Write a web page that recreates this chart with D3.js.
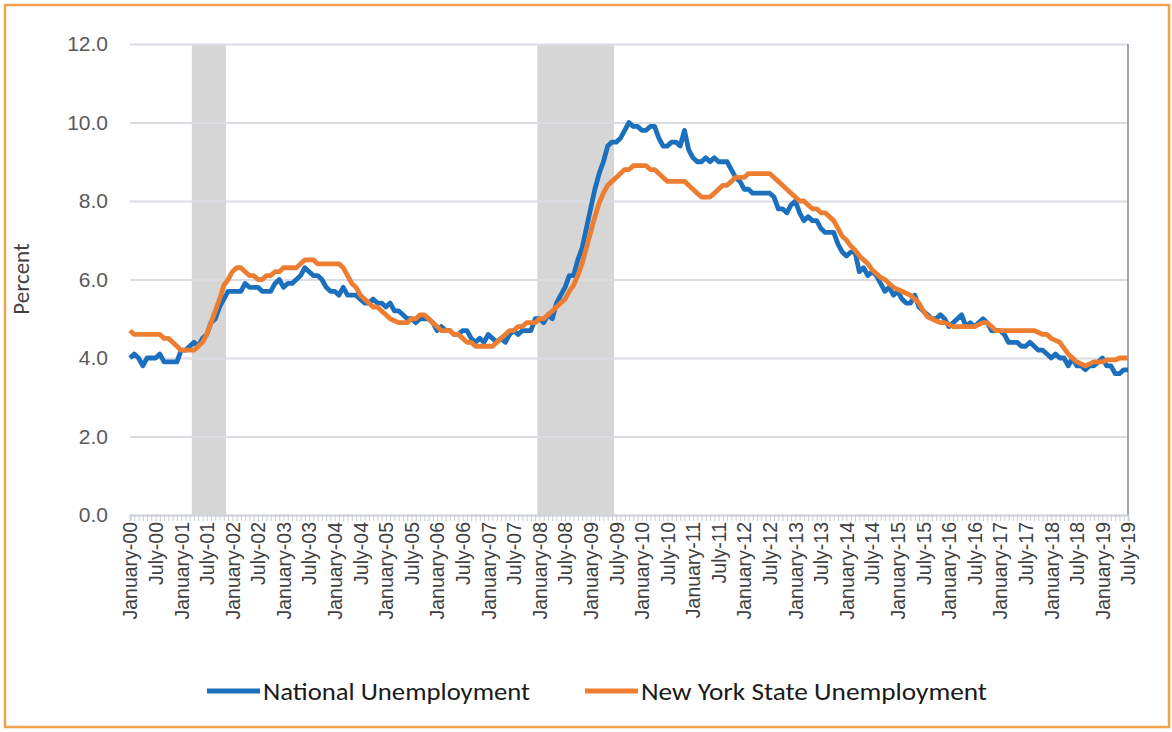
<!DOCTYPE html>
<html>
<head>
<meta charset="utf-8">
<script src="https://cdn.jsdelivr.net/npm/d3@7"></script>
<style>
  body { margin: 0; background: #fff; }
  svg { font-family: Carlito, Lato, sans-serif; }
</style>
</head>
<body>
<svg id="chart" width="1172" height="732"></svg>
<script>
// monthly unemployment rate, January 2000 .. July 2019
const national = [
  4.0, 4.1, 4.0, 3.8, 4.0, 4.0, 4.0, 4.1, 3.9, 3.9, 3.9, 3.9,
  4.2, 4.2, 4.3, 4.4, 4.3, 4.5, 4.6, 4.9, 5.0, 5.3, 5.5, 5.7,
  5.7, 5.7, 5.7, 5.9, 5.8, 5.8, 5.8, 5.7, 5.7, 5.7, 5.9, 6.0,
  5.8, 5.9, 5.9, 6.0, 6.1, 6.3, 6.2, 6.1, 6.1, 6.0, 5.8, 5.7,
  5.7, 5.6, 5.8, 5.6, 5.6, 5.6, 5.5, 5.4, 5.4, 5.5, 5.4, 5.4,
  5.3, 5.4, 5.2, 5.2, 5.1, 5.0, 5.0, 4.9, 5.0, 5.0, 5.0, 4.9,
  4.7, 4.8, 4.7, 4.7, 4.6, 4.6, 4.7, 4.7, 4.5, 4.4, 4.5, 4.4,
  4.6, 4.5, 4.4, 4.5, 4.4, 4.6, 4.7, 4.6, 4.7, 4.7, 4.7, 5.0,
  5.0, 4.9, 5.1, 5.0, 5.4, 5.6, 5.8, 6.1, 6.1, 6.5, 6.8, 7.3,
  7.8, 8.3, 8.7, 9.0, 9.4, 9.5, 9.5, 9.6, 9.8, 10.0, 9.9, 9.9,
  9.8, 9.8, 9.9, 9.9, 9.6, 9.4, 9.4, 9.5, 9.5, 9.4, 9.8, 9.3,
  9.1, 9.0, 9.0, 9.1, 9.0, 9.1, 9.0, 9.0, 9.0, 8.8, 8.6, 8.5,
  8.3, 8.3, 8.2, 8.2, 8.2, 8.2, 8.2, 8.1, 7.8, 7.8, 7.7, 7.9,
  8.0, 7.7, 7.5, 7.6, 7.5, 7.5, 7.3, 7.2, 7.2, 7.2, 6.9, 6.7,
  6.6, 6.7, 6.7, 6.2, 6.3, 6.1, 6.2, 6.1, 5.9, 5.7, 5.8, 5.6,
  5.7, 5.5, 5.4, 5.4, 5.6, 5.3, 5.2, 5.1, 5.0, 5.0, 5.1, 5.0,
  4.8, 4.9, 5.0, 5.1, 4.8, 4.9, 4.8, 4.9, 5.0, 4.9, 4.7, 4.7,
  4.7, 4.6, 4.4, 4.4, 4.4, 4.3, 4.3, 4.4, 4.3, 4.2, 4.2, 4.1,
  4.0, 4.1, 4.0, 4.0, 3.8, 4.0, 3.8, 3.8, 3.7, 3.8, 3.8, 3.9,
  4.0, 3.8, 3.8, 3.6, 3.6, 3.7, 3.7
];

const newYork = [
  4.7, 4.6, 4.6, 4.6, 4.6, 4.6, 4.6, 4.6, 4.5, 4.5, 4.4, 4.3,
  4.2, 4.2, 4.2, 4.2, 4.3, 4.4, 4.6, 4.9, 5.2, 5.5, 5.85, 6.0,
  6.2, 6.3, 6.3, 6.2, 6.1, 6.1, 6.0, 6.0, 6.1, 6.1, 6.2, 6.2,
  6.3, 6.3, 6.3, 6.3, 6.4, 6.5, 6.5, 6.5, 6.4, 6.4, 6.4, 6.4,
  6.4, 6.4, 6.3, 6.1, 5.9, 5.8, 5.6, 5.5, 5.4, 5.3, 5.3, 5.2,
  5.1, 5.0, 4.95, 4.9, 4.9, 4.9, 5.0, 5.0, 5.1, 5.1, 5.0, 4.9,
  4.8, 4.7, 4.7, 4.7, 4.6, 4.6, 4.5, 4.4, 4.4, 4.3, 4.3, 4.3,
  4.3, 4.3, 4.4, 4.5, 4.6, 4.7, 4.7, 4.8, 4.8, 4.9, 4.9, 4.9,
  5.0, 5.0, 5.1, 5.2, 5.3, 5.4, 5.5, 5.7, 5.85, 6.1, 6.4, 6.8,
  7.2, 7.6, 7.95, 8.2, 8.4, 8.5, 8.6, 8.7, 8.8, 8.8, 8.9, 8.9,
  8.9, 8.9, 8.8, 8.8, 8.7, 8.6, 8.5, 8.5, 8.5, 8.5, 8.5, 8.4,
  8.3, 8.2, 8.1, 8.1, 8.1, 8.2, 8.3, 8.4, 8.4, 8.5, 8.6, 8.6,
  8.6, 8.7, 8.7, 8.7, 8.7, 8.7, 8.7, 8.6, 8.5, 8.4, 8.3, 8.2,
  8.1, 8.0, 8.0, 7.9, 7.8, 7.8, 7.7, 7.7, 7.6, 7.5, 7.3, 7.1,
  7.0, 6.85, 6.75, 6.6, 6.5, 6.4, 6.25, 6.15, 6.05, 6.0, 5.9, 5.8,
  5.75, 5.7, 5.65, 5.6, 5.5, 5.4, 5.2, 5.05, 5.0, 4.95, 4.9, 4.9,
  4.85, 4.8, 4.8, 4.8, 4.8, 4.8, 4.8, 4.85, 4.9, 4.9, 4.8, 4.7,
  4.7, 4.7, 4.7, 4.7, 4.7, 4.7, 4.7, 4.7, 4.7, 4.65, 4.6, 4.6,
  4.5, 4.45, 4.4, 4.25, 4.1, 4.0, 3.9, 3.85, 3.8, 3.85, 3.9, 3.9,
  3.9, 3.95, 3.95, 3.95, 4.0, 4.0, 4.0
];

const recessions = [["April-01", "November-01"], ["January-08", "June-09"]];
const yTicks = [0, 2, 4, 6, 8, 10, 12];
const seriesNames = ["National Unemployment", "New York State Unemployment"];
const seriesColors = ["#1b6fbd", "#ed7d31"];

const fmt = d3.timeFormat("%B-%y");
const categories = d3.timeMonth.range(new Date(2000, 0, 1), new Date(2019, 7, 1)).map(fmt);
const labelCats = categories.filter(c => c.startsWith("January") || c.startsWith("July"));

const svg = d3.select("#chart");

svg.append("rect")
  .attr("x", 5).attr("y", 5).attr("width", 1164).attr("height", 722)
  .attr("fill", "none").attr("stroke", "#f2a14f").attr("stroke-width", 2.5);

const plotLeft = 130, plotRight = 1128, plotTop = 44, plotBottom = 515;

const x = d3.scalePoint().domain(categories).range([plotLeft, plotRight]);
const y = d3.scaleLinear().domain([0, 12]).range([plotBottom, plotTop]);
const step = x.step();

// recession bands
svg.append("g")
  .selectAll("rect")
  .data(recessions)
  .enter()
  .append("rect")
  .attr("x", d => x(d[0]) - step / 2)
  .attr("width", d => x(d[1]) - x(d[0]) + step)
  .attr("y", plotTop)
  .attr("height", plotBottom - plotTop)
  .attr("fill", "#d6d6d6");

// y axis + gridlines
const yAxis = svg.append("g")
  .attr("transform", "translate(" + plotLeft + ",0)")
  .call(d3.axisLeft(y).tickValues(yTicks).tickFormat(d3.format(".1f"))
    .tickSize(-(plotRight - plotLeft)).tickPadding(22));
yAxis.select(".domain").remove();
yAxis.selectAll("line").attr("stroke", "#d9dde3").attr("stroke-width", 2);
yAxis.selectAll("text").attr("fill", "#595959").style("font-size", "21px");

// right edge line
svg.append("line")
  .attr("x1", plotRight).attr("x2", plotRight).attr("y1", plotTop).attr("y2", plotBottom)
  .attr("stroke", "#7d8b9b").attr("stroke-width", 1.5);

// x axis: minor month ticks
const xMinor = svg.append("g")
  .attr("transform", "translate(0," + plotBottom + ")")
  .call(d3.axisBottom(x).tickSize(6).tickFormat(""));
xMinor.select(".domain").attr("stroke", "#d0d5dc").attr("stroke-width", 2);
xMinor.selectAll("line").attr("stroke", "#c9ced6");

// x axis labels
const xAxis = svg.append("g")
  .attr("transform", "translate(0," + plotBottom + ")")
  .call(d3.axisBottom(x).tickValues(labelCats).tickSize(0));
xAxis.select(".domain").remove();
xAxis.selectAll("text")
  .attr("transform", "rotate(-90)")
  .attr("x", -7).attr("y", 0).attr("dy", "0.35em")
  .style("text-anchor", "end")
  .attr("fill", "#404040")
  .style("font-size", "19.5px");

// y title
svg.append("text")
  .attr("transform", "translate(29,279) rotate(-90)")
  .attr("text-anchor", "middle")
  .attr("fill", "#404040")
  .style("font-size", "23px")
  .text("Percent");

// lines
const line = d3.line()
  .x((d, i) => x(categories[i]))
  .y(d => y(d));

[national, newYork].forEach((s, k) => {
  svg.append("path")
    .attr("d", line(s))
    .attr("fill", "none")
    .attr("stroke", seriesColors[k])
    .attr("stroke-width", 4.8)
    .attr("stroke-linejoin", "round");
});

// legend
const legendX = [207, 585];
const legendW = [267, 346];
const legend = svg.append("g");
seriesNames.forEach((name, k) => {
  legend.append("line")
    .attr("x1", legendX[k]).attr("x2", legendX[k] + 53)
    .attr("y1", 691).attr("y2", 691)
    .attr("stroke", seriesColors[k]).attr("stroke-width", 5);
  legend.append("text")
    .attr("x", legendX[k] + 56).attr("y", 691).attr("dy", "0.35em")
    .attr("fill", "#1a1a1a")
    .style("font-size", "25px")
    .attr("textLength", legendW[k])
    .attr("lengthAdjust", "spacingAndGlyphs")
    .text(name);
});
</script>
</body>
</html>
